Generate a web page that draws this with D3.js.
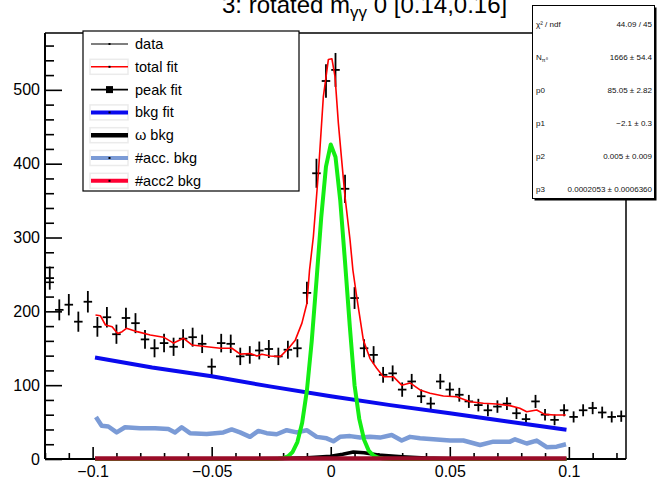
<!DOCTYPE html>
<html><head><meta charset="utf-8">
<script src="https://cdn.jsdelivr.net/npm/d3@7"></script>
<style>
body{margin:0;background:#fff}
svg{display:block}
text{font-family:"Liberation Sans",Arial,Helvetica,sans-serif}
</style>
</head><body>
<svg id="c" width="659" height="480"></svg>
<script>
// ---------------- data ----------------
const histLow = -0.12, binWidth = 0.004;
const dataCounts = [245,202,209,186,213,179,192,169,191,184,162,150,157,152,163,165,156,125,157,156,
  139,141,147,149,139,148,150,225,387,512,527,366,218,150,141,114,116,94,105,85,
  75,105,94,87,78,73,66,71,75,62,54,78,60,53,66,57,66,69,63,57,58];

const totalFitX = [-0.0988,-0.0967,-0.0946,-0.0918,-0.0895,-0.0876,-0.0858,-0.0813,-0.0758,-0.0702,-0.0660,-0.0618,-0.0583,-0.0520,-0.0464,-0.0415,-0.0380,-0.0338,-0.0310,-0.0289,-0.0254,-0.0212,-0.0177,-0.0149,-0.0121,-0.0100,-0.0089,-0.0073,-0.0052,-0.0031,-0.0010,0.0005,0.0018,0.0032,0.0047,0.0060,0.0081,0.0093,0.0109,0.0137,0.0165,0.0193,0.0221,0.0263,0.0298,0.0333,0.0375,0.0417,0.0473,0.0529,0.0585,0.0641,0.0697,0.0752,0.0794,0.0823,0.0865,0.0899,0.0941,0.0987];
const totalFitY = [195,194,181.5,179,170,172.5,177,172.5,168,165,157,163.5,154.5,152,150,150,142,143,139.6,142,139.6,138.6,150,161,184,211,256,301,387,491,541,542,518,455,401,355,297,256,220,161,136,123,111.5,111.5,100,103,93.5,89,85.4,84.4,77.6,75.5,74.5,72.3,68.7,64,66.4,60.5,59.6,59.6];

const peakX = [-0.099,-0.030,-0.026,-0.022,-0.020,-0.018,-0.016,-0.014,-0.012,-0.010,-0.008,-0.006,-0.004,-0.002,0.000,0.002,0.004,0.006,0.008,0.010,0.012,0.014,0.016,0.018,0.020,0.022,0.026,0.030,0.099];
const peakY = [0,0,0.1,0.5,1.1,3.5,9.5,23,49,93,159,241,327,396,426,409,350,267,180,100,54,26,11,4.5,1.6,0.6,0.1,0,0];

const bkgX = [-0.099,-0.075,-0.05,-0.025,0,0.025,0.05,0.075,0.099];
const bkgY = [137.5,124,112,98,85,73,62,50.5,39.5];

const omegaX = [-0.099,-0.04,-0.03,-0.02,-0.01,0,0.005,0.0095,0.014,0.02,0.03,0.04,0.05,0.099];
const omegaY = [0,0,0.3,0.8,1.8,3.8,6.5,9.5,8.5,5.5,3,1.2,0.3,0];

const accX = [-0.0986,-0.0962,-0.0934,-0.0899,-0.0864,-0.0801,-0.0738,-0.0682,-0.0654,-0.0626,-0.0591,-0.0521,-0.0451,-0.0416,-0.0381,-0.0339,-0.0304,-0.0269,-0.0227,-0.0185,-0.0143,-0.0101,-0.0059,-0.0017,0.0011,0.0039,0.0081,0.0123,0.0165,0.0207,0.0256,0.0298,0.0333,0.0375,0.0417,0.0459,0.0501,0.0557,0.0627,0.0683,0.0753,0.0774,0.0823,0.0865,0.0907,0.0949,0.0988];
const accY = [57,45,44,36,43,41.5,41.5,40.6,36,43,35,34,36,40,36,30,38,35,33.5,39,36,39,30,28,24,30,31,29,30,29,32.5,25,30,28,27,26,25,25,19,23.5,23.5,26.7,21,25,16,16.7,20];

const acc2X = [-0.099,-0.05,0,0.05,0.099];
const acc2Y = [0.7,0.7,0.7,0.7,0.7];

const xMajorTicks = [-0.1,-0.05,0,0.05,0.1];
const xMinorTicks = [-0.12,-0.11,-0.09,-0.08,-0.07,-0.06,-0.04,-0.03,-0.02,-0.01,0.01,0.02,0.03,0.04,0.06,0.07,0.08,0.09,0.11,0.12];
const yMajorTicks = [0,100,200,300,400,500];
const yMinorTicks = [20,40,60,80,120,140,160,180,220,240,260,280,320,340,360,380,420,440,460,480,520,540,560];

const legendLabels = ["data","total fit","peak fit","bkg fit","ω bkg","#acc. bkg","#acc2 bkg"];
const statsLabels = ["χ² / ndf","N","p0","p1","p2","p3"];
const statsValues = ["44.09 / 45","1666 ± 54.4","85.05 ± 2.82","−2.1 ± 0.3","0.005 ± 0.009","0.0002053 ± 0.0006360"];

// ---------------- chart ----------------
const svg = d3.select("#c");
const x = d3.scaleLinear().domain([-0.12,0.124]).range([45,626]);
const y = d3.scaleLinear().domain([0,577]).range([459,33]);

// frame top/right
svg.append("path").attr("d",`M${x.range()[0]},${y.range()[1]}H${x.range()[1]}V${y.range()[0]}`)
  .attr("fill","none").attr("stroke","#000").attr("stroke-width",1.5);

// axes
function styleAxis(g){ g.select(".domain").remove(); g.selectAll("line").attr("stroke","#000").attr("stroke-width",1.6);
  g.selectAll("text").attr("fill","#000").style("font-family",'"Liberation Sans",Arial,sans-serif'); }
const gxMinor = svg.append("g").attr("transform",`translate(0,${y(0)})`)
  .call(d3.axisBottom(x).tickValues(xMinorTicks).tickSize(-6).tickFormat(""));
styleAxis(gxMinor);
const gxMajor = svg.append("g").attr("transform",`translate(0,${y(0)})`)
  .call(d3.axisBottom(x).tickValues(xMajorTicks).tickSize(-12).tickPadding(7).tickFormat(d3.format("~g")));
styleAxis(gxMajor); gxMajor.selectAll("text").style("font-size","16px");
const gyMinor = svg.append("g").attr("transform",`translate(${x(histLow)},0)`)
  .call(d3.axisLeft(y).tickValues(yMinorTicks).tickSize(-9).tickFormat(""));
styleAxis(gyMinor);
const gyMajor = svg.append("g").attr("transform",`translate(${x(histLow)},0)`)
  .call(d3.axisLeft(y).tickValues(yMajorTicks).tickSize(-17).tickPadding(5).tickFormat(d3.format("d")));
styleAxis(gyMajor); gyMajor.selectAll("text").style("font-size","16px");
// axis lines
svg.append("line").attr("x1",x.range()[0]).attr("x2",x.range()[1]).attr("y1",y(0)).attr("y2",y(0)).attr("stroke","#000").attr("stroke-width",2);
svg.append("line").attr("x1",x.range()[0]).attr("x2",x.range()[0]).attr("y1",y.range()[0]).attr("y2",y.range()[1]).attr("stroke","#000").attr("stroke-width",2);

// data crosses
const pts = dataCounts.map((v,i)=>({c:histLow+(i+0.5)*binWidth, v}));
const gd = svg.append("g").attr("stroke","#000").attr("stroke-width",1.8);
gd.selectAll(".h").data(pts).join("line")
  .attr("x1",d=>x(d.c-binWidth/2)+0.5).attr("x2",d=>x(d.c+binWidth/2)-0.5)
  .attr("y1",d=>y(d.v)).attr("y2",d=>y(d.v));
gd.selectAll(".v").data(pts).join("line")
  .attr("x1",d=>x(d.c)).attr("x2",d=>x(d.c))
  .attr("y1",d=>y(d.v+Math.sqrt(d.v))).attr("y2",d=>y(d.v-Math.sqrt(d.v)));

const line = d3.line().x(d=>x(d[0])).y(d=>y(d[1]));
function curve(xs,ys,color,w){
  svg.append("path").datum(xs.map((v,i)=>[v,ys[i]])).attr("d",line)
    .attr("fill","none").attr("stroke",color).attr("stroke-width",w).attr("stroke-linejoin","round");
}
curve(accX,accY,"#7b9bd6",4.5);
curve(bkgX,bkgY,"#0a0aee",4);
curve(omegaX,omegaY,"#000",3.5);
curve(peakX,peakY,"#14ee14",4);
curve(acc2X,acc2Y,"#9a0c28",4.5);
curve(totalFitX,totalFitY,"#ff0000",1.6);

// title
const title = svg.append("text").attr("x",222).attr("y",13).style("font-size","24px").attr("fill","#000");
title.append("tspan").text("3: rotated m");
title.append("tspan").attr("dy",5).style("font-size","17px").text("γγ");
title.append("tspan").attr("dy",-5).text(" 0 [0.14,0.16]");

// legend
const lg = svg.append("g");
lg.append("rect").attr("x",83).attr("y",31).attr("width",216).attr("height",160)
  .attr("fill","#fff").attr("stroke","#000").attr("stroke-width",1.2);
const legStyle = [
  {c:"#000",w:1.2,box:false,m:"dot"},
  {c:"#ff0000",w:1.6,box:true,m:"dot"},
  {c:"#000",w:1.6,box:false,m:"sq"},
  {c:"#0a0aee",w:4,box:true,m:"dot"},
  {c:"#000",w:4.5,box:true,m:"none"},
  {c:"#7b9bd6",w:4,box:true,m:"dot"},
  {c:"#ff0033",w:4,box:true,m:"dot"}];
legendLabels.forEach((lab,i)=>{
  const cy = 44 + i*22.8, s = legStyle[i];
  if(s.box) lg.append("rect").attr("x",90).attr("y",cy-7.5).attr("width",38).attr("height",15)
     .attr("fill","#fff").attr("stroke","#ebebeb").attr("stroke-width",1.5);
  lg.append("line").attr("x1",91).attr("x2",128).attr("y1",cy).attr("y2",cy).attr("stroke",s.c).attr("stroke-width",s.w);
  if(s.m==="dot") lg.append("rect").attr("x",108.5).attr("y",cy-1).attr("width",2).attr("height",2).attr("fill","#000");
  if(s.m==="sq") lg.append("rect").attr("x",106).attr("y",cy-3.5).attr("width",7).attr("height",7).attr("fill","#000");
  lg.append("text").attr("x",135).attr("y",cy+5).style("font-size","14.5px").attr("fill","#000").text(lab);
});

// stats box
const sb = svg.append("g");
sb.append("rect").attr("x",534.5).attr("y",7.5).attr("width",122).attr("height",193).attr("fill","#000");
sb.append("rect").attr("x",532.5).attr("y",5.5).attr("width",122).attr("height",193).attr("fill","#fff").attr("stroke","#000").attr("stroke-width",1);
statsLabels.forEach((lab,i)=>{
  const ty = 27 + i*33;
  const t = sb.append("text").attr("x",536).attr("y",ty).style("font-size","8px").attr("fill","#111");
  if(lab==="N"){ t.append("tspan").text("N"); t.append("tspan").attr("dy",2).style("font-size","5.5px").text("π⁰"); }
  else t.text(lab);
  sb.append("text").attr("x",652).attr("y",ty).attr("text-anchor","end").style("font-size","8px").attr("fill","#111").text(statsValues[i]);
});
</script>
</body></html>
